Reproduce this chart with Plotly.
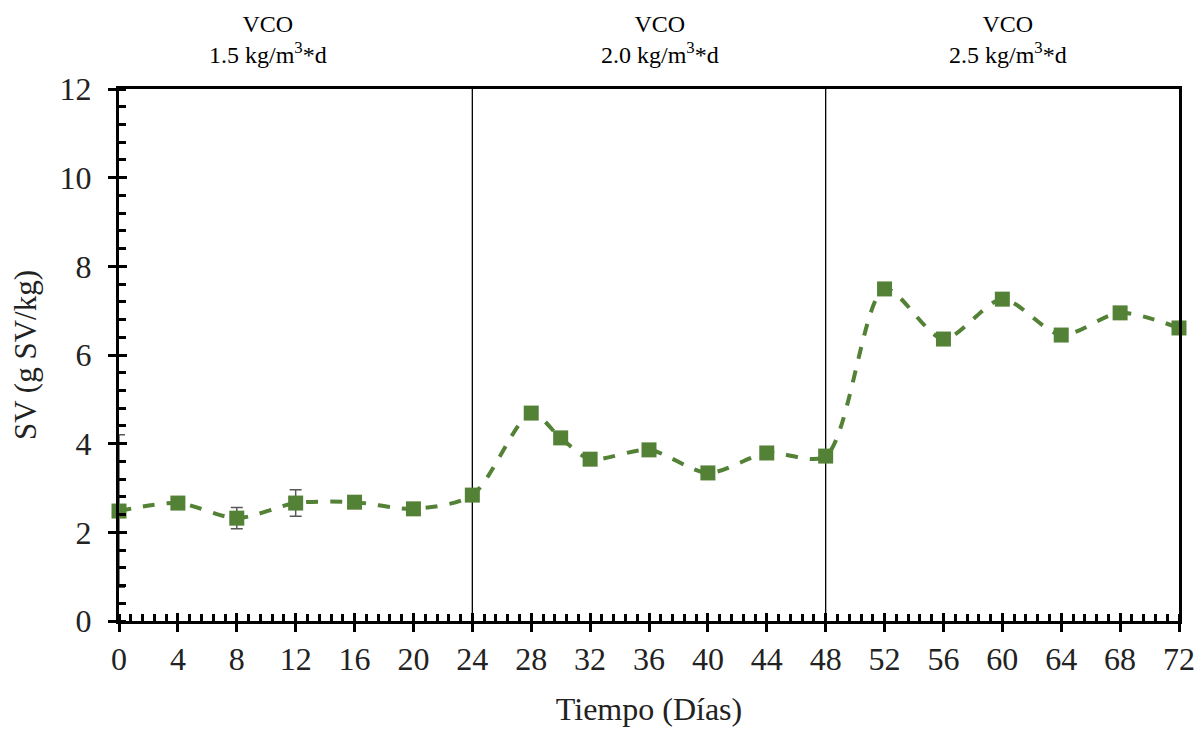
import plotly.graph_objects as go

# Data
dias = [0, 4, 8, 12, 16, 20, 24, 28, 30, 32, 36, 40, 44, 48, 52, 56, 60, 64, 68, 72]
sv = [2.48, 2.66, 2.32, 2.66, 2.68, 2.53, 2.84, 4.69, 4.13, 3.65, 3.86, 3.34, 3.79, 3.72,
      7.49, 6.36, 7.26, 6.45, 6.95, 6.61]
sv_err = [1.72, 0.08, 0.24, 0.30, 0.08, 0.08, 0.08, 0.08, 0.08, 0.08, 0.08, 0.08, 0.08, 0.08,
          0.08, 0.08, 0.08, 0.08, 0.08, 0.08]
phase_bounds = [24, 48]
phase_label_x = [10.1, 36.75, 60.4]
phase_labels = ["VCO<br>1.5 kg/m<sup>3</sup>*d", "VCO<br>2.0 kg/m<sup>3</sup>*d", "VCO<br>2.5 kg/m<sup>3</sup>*d"]

FONT = "Liberation Serif"
GREEN = "#538135"

fig = go.Figure()
fig.add_trace(go.Scatter(
    x=dias, y=sv, mode="lines+markers",
    line=dict(color=GREEN, width=4, dash="dash", shape="spline", smoothing=0.8),
    marker=dict(symbol="square", size=15, color=GREEN),
    error_y=dict(type="data", array=sv_err, color="#595959", thickness=1.5, width=6),
    showlegend=False, cliponaxis=False,
))
# invisible trace to drive secondary axes (inner half of major ticks)
fig.add_trace(go.Scatter(x=[0, 72], y=[0, 12], xaxis="x2", yaxis="y2", mode="markers",
                         marker=dict(opacity=0), showlegend=False, hoverinfo="skip"))

for b in phase_bounds:
    fig.add_shape(type="line", x0=b, x1=b, y0=0, y1=1, xref="x", yref="paper",
                  line=dict(color="black", width=1.3), layer="below")

for xpos, txt in zip(phase_label_x, phase_labels):
    fig.add_annotation(x=xpos, y=1.035, xref="x", yref="paper", text=txt, showarrow=False,
                       yanchor="bottom", xanchor="center",
                       font=dict(family=FONT, size=24, color="#000000"))

axis_common = dict(showgrid=False, zeroline=False, showline=True, linecolor="black",
                   linewidth=3, mirror=True, tickfont=dict(family=FONT, size=32, color="#222222"),
                   ticks="outside", ticklen=8, tickwidth=3, tickcolor="black", automargin=False)

fig.update_layout(
    width=1194, height=724,
    margin=dict(l=111, r=23, t=81, b=111),
    paper_bgcolor="white", plot_bgcolor="white",
    xaxis=dict(range=[0, 72], dtick=4, tick0=0,
               title=dict(text="Tiempo (Días)", font=dict(family=FONT, size=32, color="#222222"), standoff=22),
               minor=dict(dtick=0.8, tick0=0, ticks="inside", ticklen=7, tickwidth=2.5, tickcolor="black"),
               **axis_common),
    yaxis=dict(range=[0, 12], dtick=2, tick0=0, ticklabelstandoff=10,
               title=dict(text="SV (g SV/kg)", font=dict(family=FONT, size=31, color="#222222"), standoff=22),
               minor=dict(dtick=0.4, tick0=0, ticks="inside", ticklen=7, tickwidth=2.5, tickcolor="black"),
               **axis_common),
    xaxis2=dict(range=[0, 72], dtick=4, tick0=0, overlaying="x", side="bottom", showgrid=False,
                zeroline=False, showline=False, ticks="inside", ticklen=8, tickwidth=3,
                tickcolor="black", showticklabels=False, automargin=False),
    yaxis2=dict(range=[0, 12], dtick=2, tick0=0, overlaying="y", side="left", showgrid=False,
                zeroline=False, showline=False, ticks="inside", ticklen=8, tickwidth=3,
                tickcolor="black", showticklabels=False, automargin=False),
)

fig.write_html("out.html")
